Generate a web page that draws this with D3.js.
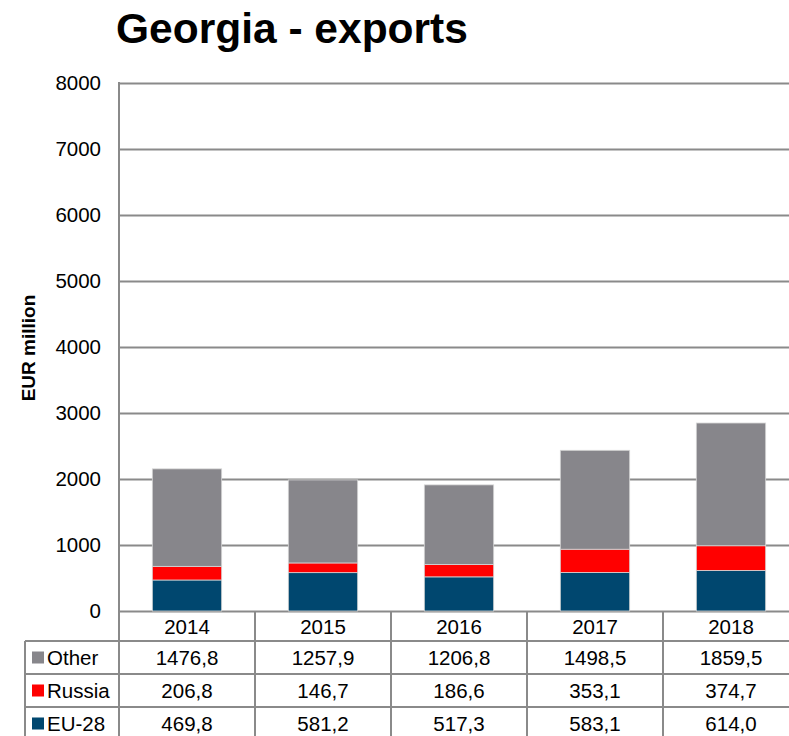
<!DOCTYPE html>
<html>
<head>
<meta charset="utf-8">
<script src="https://cdn.jsdelivr.net/npm/d3@7"></script>
<style>
  body { margin: 0; background: #fff; overflow: hidden; }
  svg { font-family: "Liberation Sans", Arial, sans-serif; display: block; }
</style>
</head>
<body>
<script>
// data
var years = ["2014", "2015", "2016", "2017", "2018"];
var eu28 = [469.8, 581.2, 517.3, 583.1, 614.0];
var russia = [206.8, 146.7, 186.6, 353.1, 374.7];
var other = [1476.8, 1257.9, 1206.8, 1498.5, 1859.5];
var yTicks = [0, 1000, 2000, 3000, 4000, 5000, 6000, 7000, 8000];

var seriesNames = ["EU-28", "Russia", "Other"];
var seriesColors = {"EU-28": "#00476f", "Russia": "#ff0000", "Other": "#87868b"};
var seriesValues = {"EU-28": eu28, "Russia": russia, "Other": other};

// SVG area
var svgWidth = 789;
var svgHeight = 736;
var plot = {left: 119, right: 799, top: 83, bottom: 611};
var gridColor = "#8a8a8a";
var fontSize = 20.5;

var svg = d3.select("body")
  .append("svg")
  .attr("width", svgWidth)
  .attr("height", svgHeight);

// build table rows for stacking
var table = years.map(function(y, i) {
  return {year: y, "EU-28": eu28[i], "Russia": russia[i], "Other": other[i]};
});

var stack = d3.stack().keys(seriesNames)(table);

// scales
var xCol = d3.scaleBand()
  .domain(years)
  .range([plot.left, plot.right])
  .padding(0);

var xBar = d3.scaleBand()
  .domain(years)
  .range([plot.left, plot.right])
  .paddingInner(0.49)
  .paddingOuter(0.245);

var yScale = d3.scaleLinear()
  .domain([0, 8000])
  .range([plot.bottom, plot.top]);

// title
svg.append("text")
  .attr("x", 116)
  .attr("y", 43)
  .attr("font-size", 42.5)
  .attr("font-weight", "bold")
  .attr("fill", "#000")
  .text("Georgia - exports");

// y axis with gridlines
var yAxis = svg.append("g")
  .attr("transform", `translate(${plot.left}, 0)`)
  .call(d3.axisLeft(yScale)
    .tickValues(yTicks)
    .tickFormat(d3.format("d"))
    .tickSize(-(plot.right - plot.left))
    .tickPadding(18));

yAxis.select(".domain").remove();
yAxis.selectAll(".tick line")
  .attr("stroke", gridColor)
  .attr("stroke-width", 2);
yAxis.selectAll(".tick text")
  .attr("font-size", fontSize)
  .attr("fill", "#000");

// left axis line
svg.append("line")
  .attr("x1", plot.left).attr("x2", plot.left)
  .attr("y1", plot.top - 1).attr("y2", plot.bottom)
  .attr("stroke", gridColor)
  .attr("stroke-width", 2);

// y axis title
svg.append("text")
  .attr("transform", "rotate(-90)")
  .attr("x", -348)
  .attr("y", 35)
  .attr("text-anchor", "middle")
  .attr("font-size", 19)
  .attr("font-weight", "bold")
  .text("EUR million");

// stacked bars
var layers = svg.selectAll("g.layer")
  .data(stack)
  .enter()
  .append("g")
  .attr("class", "layer")
  .attr("fill", d => seriesColors[d.key]);

layers.selectAll("rect")
  .data(d => d)
  .enter()
  .append("rect")
  .attr("x", d => xBar(d.data.year))
  .attr("width", xBar.bandwidth())
  .attr("y", d => yScale(d[1]))
  .attr("height", d => yScale(d[0]) - yScale(d[1]))
  .attr("stroke", "#d6d6d6")
  .attr("stroke-width", 0.8);

// data table below the plot
var rowTop = plot.bottom;
var headerH = 30;
var rowH = 33;
var tableLeft = 25;
var rows = ["Other", "Russia", "EU-28"];

var tableG = svg.append("g");

// year header
tableG.selectAll("text.year")
  .data(years)
  .enter()
  .append("text")
  .attr("class", "year")
  .attr("x", d => xCol(d) + xCol.bandwidth() / 2)
  .attr("y", rowTop + headerH / 2 + 7.5)
  .attr("text-anchor", "middle")
  .attr("font-size", fontSize)
  .text(d => d);

// value rows
rows.forEach(function(name, r) {
  var top = rowTop + headerH + r * rowH;
  var g = tableG.append("g");
  g.append("rect")
    .attr("x", 32)
    .attr("y", top + rowH / 2 - 6)
    .attr("width", 12)
    .attr("height", 12)
    .attr("fill", seriesColors[name]);
  g.append("text")
    .attr("x", 47)
    .attr("y", top + rowH / 2 + 7.5)
    .attr("font-size", fontSize)
    .text(name);
  g.selectAll("text.val")
    .data(seriesValues[name])
    .enter()
    .append("text")
    .attr("class", "val")
    .attr("x", (d, i) => xCol(years[i]) + xCol.bandwidth() / 2)
    .attr("y", top + rowH / 2 + 7.5)
    .attr("text-anchor", "middle")
    .attr("font-size", fontSize)
    .text(d => d3.format(".1f")(d).replace(".", ","));
});

// table grid lines
var lineStyle = function(sel) {
  sel.attr("stroke", gridColor).attr("stroke-width", 2);
};
var tableBottom = rowTop + headerH + rows.length * rowH;

// horizontal lines
[0, 1, 2, 3].forEach(function(r) {
  var y = rowTop + headerH + r * rowH;
  tableG.append("line")
    .attr("x1", tableLeft).attr("x2", plot.right)
    .attr("y1", y).attr("y2", y)
    .call(lineStyle);
});

// vertical lines
years.concat(["end"]).forEach(function(y, i) {
  var x = plot.left + i * xCol.bandwidth();
  tableG.append("line")
    .attr("x1", x).attr("x2", x)
    .attr("y1", rowTop).attr("y2", tableBottom)
    .call(lineStyle);
});
tableG.append("line")
  .attr("x1", tableLeft).attr("x2", tableLeft)
  .attr("y1", rowTop + headerH).attr("y2", tableBottom)
  .call(lineStyle);
</script>
</body>
</html>
